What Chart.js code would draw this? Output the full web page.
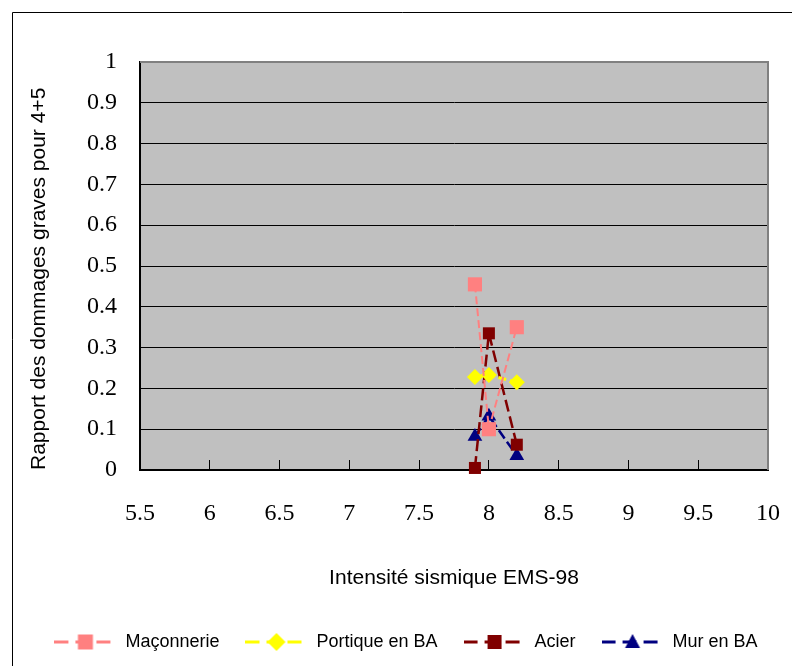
<!DOCTYPE html>
<html><head><meta charset="utf-8">
<script src="https://cdn.jsdelivr.net/npm/chart.js@4/dist/chart.umd.min.js"></script>
<style>html,body{margin:0;padding:0;background:#fff}#wrap{width:792px;height:666px;position:relative}</style>
</head><body><div id="wrap"><canvas id="c" width="792" height="666"></canvas></div>
<script>
// ---- data ----
const seriesNames = ['Maçonnerie', 'Portique en BA', 'Acier', 'Mur en BA'];
const xMaconnerie = [7.9, 8.0, 8.2];
const yMaconnerie = [0.455, 0.10, 0.35];
const xPortique = [7.9, 8.0, 8.2];
const yPortique = [0.228, 0.233, 0.215];
const xAcier = [7.9, 8.0, 8.2];
const yAcier = [0.005, 0.335, 0.062];
const xMur = [7.9, 8.0, 8.2];
const yMur = [0.082, 0.132, 0.035];
const xTickValues = [5.5, 6, 6.5, 7, 7.5, 8, 8.5, 9, 9.5, 10];
const xTickLabels = ['5.5', '6', '6.5', '7', '7.5', '8', '8.5', '9', '9.5', '10'];
const yTickValues = [0, 0.1, 0.2, 0.3, 0.4, 0.5, 0.6, 0.7, 0.8, 0.9, 1];
const yTickLabels = ['0', '0.1', '0.2', '0.3', '0.4', '0.5', '0.6', '0.7', '0.8', '0.9', '1'];
const xTitle = 'Intensité sismique EMS-98';
const yTitle = 'Rapport des dommages graves pour 4+5';

// ---- styles ----
const colors = ['#FF8080', '#FFFF00', '#800000', '#000080'];
const styles = [
  {pointStyle: 'rect', radius: 10, dash: [8, 4], width: 2},
  {pointStyle: 'rectRot', radius: 8, dash: [8, 4], width: 3},
  {pointStyle: 'rect', radius: 8.5, dash: [12, 5], width: 2.5},
  {pointStyle: 'triangle', radius: 8.5, dash: [10, 4], width: 2.5}
];
const xs = [xMaconnerie, xPortique, xAcier, xMur];
const ys = [yMaconnerie, yPortique, yAcier, yMur];

const ICON_W = 62;
function makeIcon(i) {
  const c = document.createElement('canvas');
  c.width = ICON_W; c.height = 22;
  const g = c.getContext('2d');
  g.strokeStyle = colors[i]; g.fillStyle = colors[i];
  g.lineWidth = 3; g.setLineDash([14, 7]);
  g.beginPath(); g.moveTo(0, 11); g.lineTo(ICON_W, 11); g.stroke();
  g.setLineDash([]);
  const cx = ICON_W / 2, cy = 11;
  g.beginPath();
  if (i === 0) { g.rect(cx - 7.5, cy - 7.5, 15, 15); }
  else if (i === 1) { g.moveTo(cx - 9, cy); g.lineTo(cx, cy - 9); g.lineTo(cx + 9, cy); g.lineTo(cx, cy + 9); g.closePath(); }
  else if (i === 2) { g.rect(cx - 7, cy - 7, 14, 14); }
  else { g.moveTo(cx, cy - 8); g.lineTo(cx + 7.5, cy + 6); g.lineTo(cx - 7.5, cy + 6); g.closePath(); }
  g.fill();
  return c;
}
const icons = [0, 1, 2, 3].map(makeIcon);

const datasets = seriesNames.map((name, i) => ({
  label: name,
  data: xs[i].map((x, k) => ({x: x, y: ys[i][k]})),
  showLine: true,
  borderColor: colors[i],
  backgroundColor: colors[i],
  borderWidth: styles[i].width,
  borderDash: styles[i].dash,
  pointStyle: styles[i].pointStyle,
  pointRadius: styles[i].radius,
  pointHoverRadius: styles[i].radius,
  pointBorderWidth: 0,
  pointBackgroundColor: colors[i],
  tension: 0,
  clip: false
}));

const bgPlugin = {
  id: 'bg',
  beforeDraw(chart) {
    const {ctx, chartArea: a} = chart;
    ctx.save();
    ctx.fillStyle = '#fff';
    ctx.fillRect(0, 0, chart.width, chart.height);
    ctx.fillStyle = '#C0C0C0';
    ctx.fillRect(a.left, a.top, a.right - a.left, a.bottom - a.top);
    ctx.strokeStyle = '#000';
    ctx.lineWidth = 1;
    ctx.beginPath();
    ctx.moveTo(12.5, chart.height); ctx.lineTo(12.5, 12.5); ctx.lineTo(chart.width, 12.5);
    ctx.stroke();
    ctx.restore();
  },
  afterDraw(chart) {
    const {ctx, chartArea: a} = chart;
    ctx.save();
    ctx.strokeStyle = '#808080';
    ctx.lineWidth = 2;
    ctx.beginPath();
    ctx.moveTo(a.left, a.top); ctx.lineTo(a.right, a.top); ctx.lineTo(a.right, a.bottom);
    ctx.stroke();
    ctx.restore();
  }
};

new Chart(document.getElementById('c'), {
  type: 'scatter',
  data: {datasets},
  plugins: [bgPlugin],
  options: {
    responsive: false,
    animation: false,
    devicePixelRatio: 1,
    layout: {padding: {left: 20, right: 0, top: 62, bottom: 5}},
    plugins: {
      tooltip: {enabled: false},
      legend: {
        position: 'bottom',
        labels: {
          usePointStyle: true,
          pointStyleWidth: ICON_W,
          padding: 26,
          color: '#000',
          font: {family: 'Liberation Sans', size: 18},
          generateLabels: (chart) => seriesNames.map((n, i) => ({
            text: n, pointStyle: icons[i], fillStyle: colors[i], strokeStyle: colors[i],
            lineWidth: 0, hidden: false, datasetIndex: i, fontColor: '#000'
          }))
        }
      }
    },
    scales: {
      x: {
        type: 'linear', min: 5.5, max: 10,
        afterBuildTicks: (s) => { s.ticks = xTickValues.map(v => ({value: v})); },
        afterFit: (s) => { s.height = 137; s.paddingLeft = 0; s.paddingRight = 24; },
        ticks: {
          autoSkip: false, maxRotation: 0, padding: 39, color: '#000',
          font: {family: 'Liberation Serif', size: 24},
          callback: (v, idx) => xTickLabels[xTickValues.indexOf(v)]
        },
        grid: {drawOnChartArea: false, drawTicks: true, tickLength: -10, color: '#000', lineWidth: 1},
        border: {color: '#000', width: 2},
        title: {display: true, text: xTitle, color: '#000', font: {family: 'Liberation Sans', size: 21}, padding: {top: 0, bottom: 16}}
      },
      y: {
        type: 'linear', min: 0, max: 1,
        afterBuildTicks: (s) => { s.ticks = yTickValues.map(v => ({value: v})); },
        afterFit: (s) => { s.width = 120; },
        ticks: {
          padding: 23, color: '#000',
          font: {family: 'Liberation Serif', size: 24},
          callback: (v) => yTickLabels[yTickValues.indexOf(v)]
        },
        grid: {drawTicks: false, color: '#000', lineWidth: 1},
        border: {color: '#000', width: 2},
        title: {display: true, text: yTitle, align: 'start', color: '#000', font: {family: 'Liberation Sans', size: 21}, padding: {top: 7, bottom: 0}}
      }
    }
  }
});
</script></body></html>
